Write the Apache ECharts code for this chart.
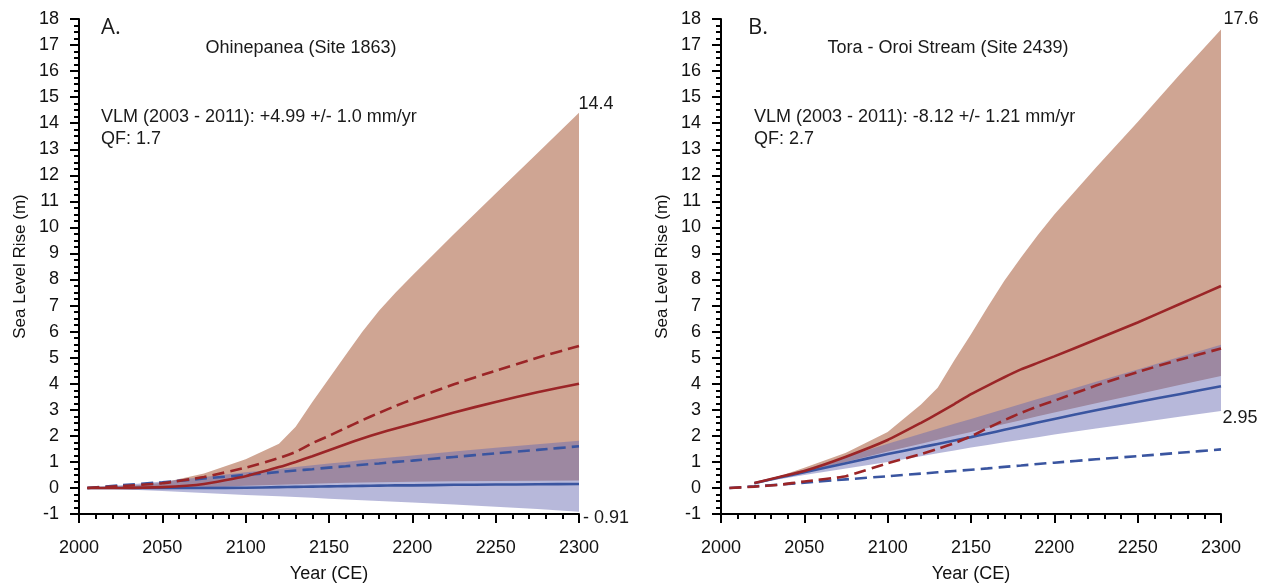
<!DOCTYPE html>
<html>
<head>
<meta charset="utf-8">
<script src="https://cdn.jsdelivr.net/npm/echarts@6/dist/echarts.min.js"></script>
<style>
html,body{margin:0;padding:0;background:#fff;}
#chart{width:1265px;height:588px;}
</style>
</head>
<body>
<div id="chart"></div>
<script>
// ---------- Panel A: Ohinepanea (Site 1863) ----------
const yearsA = [2005, 2025, 2050, 2075, 2100, 2120, 2130, 2140, 2150, 2160, 2170, 2180, 2190, 2200, 2225, 2250, 2275, 2300];
const redUpperA  = [0, 0.05, 0.2, 0.55, 1.1, 1.7, 2.35, 3.3, 4.2, 5.1, 6.0, 6.8, 7.5, 8.15, 9.75, 11.3, 12.85, 14.4];
const redLowerA  = [0, 0, 0, 0.03, 0.08, 0.12, 0.14, 0.16, 0.18, 0.2, 0.21, 0.22, 0.23, 0.24, 0.26, 0.27, 0.28, 0.29];
const blueUpperA = [0, 0.1, 0.25, 0.42, 0.6, 0.73, 0.8, 0.87, 0.94, 1.0, 1.07, 1.13, 1.19, 1.25, 1.4, 1.54, 1.68, 1.81];
const blueLowerA = [0, -0.05, -0.12, -0.19, -0.27, -0.32, -0.35, -0.38, -0.41, -0.44, -0.47, -0.5, -0.53, -0.56, -0.64, -0.72, -0.81, -0.91];
const redSolidA  = [0, 0, 0.03, 0.15, 0.45, 0.8, 1.0, 1.22, 1.45, 1.68, 1.9, 2.1, 2.28, 2.45, 2.9, 3.3, 3.67, 4.0];
const redDashA   = [0, 0.07, 0.18, 0.42, 0.78, 1.15, 1.38, 1.72, 2.0, 2.3, 2.6, 2.88, 3.15, 3.4, 3.98, 4.5, 5.0, 5.45];
const blueSolidA = [0, 0, 0, 0, 0.01, 0.03, 0.04, 0.05, 0.06, 0.07, 0.08, 0.09, 0.1, 0.1, 0.12, 0.13, 0.14, 0.15];
const blueDashA  = [0, 0.1, 0.22, 0.36, 0.5, 0.61, 0.67, 0.72, 0.78, 0.83, 0.89, 0.94, 1.0, 1.05, 1.19, 1.33, 1.46, 1.6];

// ---------- Panel B: Tora - Oroi Stream (Site 2439) ----------
const yearsB = [2005, 2020, 2035, 2050, 2075, 2100, 2120, 2130, 2140, 2150, 2160, 2170, 2180, 2190, 2200, 2225, 2250, 2275, 2300];
const redUpperB  = [null, 0.2, 0.45, 0.78, 1.35, 2.15, 3.2, 3.85, 4.9, 5.9, 6.95, 7.95, 8.85, 9.7, 10.5, 12.3, 14.05, 15.85, 17.6];
const redLowerB  = [null, 0.18, 0.4, 0.6, 1.0, 1.4, 1.7, 1.85, 2.0, 2.15, 2.3, 2.45, 2.6, 2.75, 2.9, 3.25, 3.6, 3.95, 4.3];
const blueUpperB = [null, 0.2, 0.45, 0.7, 1.2, 1.7, 2.08, 2.27, 2.46, 2.65, 2.84, 3.03, 3.22, 3.41, 3.6, 4.08, 4.55, 5.03, 5.5];
const blueLowerB = [null, 0.15, 0.33, 0.5, 0.75, 1.0, 1.22, 1.33, 1.44, 1.55, 1.65, 1.75, 1.85, 1.95, 2.05, 2.28, 2.5, 2.73, 2.95];
const redSolidB  = [null, 0.19, 0.42, 0.65, 1.2, 1.84, 2.5, 2.85, 3.22, 3.6, 3.93, 4.25, 4.55, 4.8, 5.05, 5.7, 6.35, 7.05, 7.75];
const redDashB   = [0, 0.05, 0.12, 0.25, 0.45, 0.95, 1.3, 1.5, 1.72, 1.98, 2.3, 2.6, 2.88, 3.13, 3.35, 3.93, 4.45, 4.92, 5.35];
const blueSolidB = [null, 0.18, 0.4, 0.6, 0.95, 1.3, 1.56, 1.69, 1.82, 1.95, 2.09, 2.23, 2.37, 2.51, 2.65, 2.98, 3.3, 3.6, 3.9];
const blueDashB  = [0, 0.06, 0.13, 0.2, 0.33, 0.45, 0.55, 0.6, 0.65, 0.7, 0.75, 0.81, 0.86, 0.92, 0.97, 1.1, 1.22, 1.35, 1.48];

const xTicks = {min: 2000, max: 2300, interval: 50};
const yTicks = {min: -1, max: 18, interval: 1};

const FONT = '"Liberation Sans", Arial, sans-serif';
const RED = '#9b2527';
const BLUE = '#3a55a0';
const RED_BAND = '#cfa593';
const BLUE_BAND = 'rgba(102,104,177,0.47)';

function pairs(years, vals) {
  return years.map((y, i) => [y, vals[i]]);
}

function band(idx, years, lower, upper, color, z) {
  return {
    type: 'custom', xAxisIndex: idx, yAxisIndex: idx, silent: true, z: z,
    data: [[2150, 0]], clip: true,
    renderItem: function (params, api) {
      const pts = [];
      for (let i = 0; i < years.length; i++) {
        if (upper[i] != null) pts.push(api.coord([years[i], upper[i]]));
      }
      for (let i = years.length - 1; i >= 0; i--) {
        if (lower[i] != null) pts.push(api.coord([years[i], lower[i]]));
      }
      return {type: 'polygon', shape: {points: pts}, style: {fill: color}};
    }
  };
}

function line(idx, years, vals, color, dashed, z) {
  return {
    type: 'line', xAxisIndex: idx, yAxisIndex: idx, z: z,
    data: pairs(years, vals), showSymbol: false, smooth: 0.15, silent: true,
    connectNulls: false,
    lineStyle: {color: color, width: 2.6, type: dashed ? [12, 6] : 'solid'}
  };
}

function xAxis(idx) {
  return {
    type: 'value', gridIndex: idx, min: xTicks.min, max: xTicks.max, interval: xTicks.interval,
    axisLine: {show: true, onZero: false, lineStyle: {color: '#000', width: 2}},
    axisTick: {show: true, length: 9, lineStyle: {color: '#000', width: 2}},
    minorTick: {show: true, splitNumber: 5, length: 5, lineStyle: {color: '#000', width: 2}},
    splitLine: {show: false}, minorSplitLine: {show: false},
    axisLabel: {fontSize: 18, color: '#111', margin: 25, fontFamily: FONT,
                formatter: function (v) { return String(v); }},
    name: 'Year (CE)', nameLocation: 'middle', nameGap: 51,
    nameTextStyle: {fontSize: 18, color: '#111', fontFamily: FONT}
  };
}

function yAxis(idx) {
  return {
    type: 'value', gridIndex: idx, min: yTicks.min, max: yTicks.max, interval: yTicks.interval,
    axisLine: {show: true, onZero: false, lineStyle: {color: '#000', width: 2}},
    axisTick: {show: true, length: 9, lineStyle: {color: '#000', width: 2}},
    minorTick: {show: true, splitNumber: 4, length: 5, lineStyle: {color: '#000', width: 2}},
    splitLine: {show: false}, minorSplitLine: {show: false},
    axisLabel: {fontSize: 18, color: '#111', margin: 20, fontFamily: FONT},
    name: 'Sea Level Rise (m)', nameLocation: 'middle', nameGap: 50,
    nameTextStyle: {fontSize: 17, color: '#111', fontFamily: FONT}
  };
}

function txt(text, x, y, size, align, family) {
  return {
    type: 'text', x: x, y: y, silent: true,
    style: {text: text, fontSize: size, fontFamily: family || FONT, fill: '#1a1a1a',
            align: align || 'left', verticalAlign: 'middle'}
  };
}

const chart = echarts.init(document.getElementById('chart'), null, {renderer: 'canvas'});
chart.setOption({
  backgroundColor: '#fff',
  animation: false,
  grid: [
    {left: 79, top: 19, width: 500, height: 500},
    {left: 721, top: 19, width: 500, height: 500}
  ],
  xAxis: [xAxis(0), xAxis(1)],
  yAxis: [yAxis(0), yAxis(1)],
  series: [
    band(0, yearsA, redLowerA, redUpperA, RED_BAND, 1),
    band(0, yearsA, blueLowerA, blueUpperA, BLUE_BAND, 2),
    line(0, yearsA, blueSolidA, BLUE, false, 3),
    line(0, yearsA, blueDashA, BLUE, true, 3),
    line(0, yearsA, redDashA, RED, true, 4),
    line(0, yearsA, redSolidA, RED, false, 4),
    band(1, yearsB, redLowerB, redUpperB, RED_BAND, 1),
    band(1, yearsB, blueLowerB, blueUpperB, BLUE_BAND, 2),
    line(1, yearsB, blueSolidB, BLUE, false, 3),
    line(1, yearsB, blueDashB, BLUE, true, 3),
    line(1, yearsB, redDashB, RED, true, 4),
    line(1, yearsB, redSolidB, RED, false, 4)
  ],
  graphic: [
    txt('A.', 101, 28, 22, 'left', '"Open Sans", sans-serif'),
    txt('Ohinepanea (Site 1863)', 301, 48, 18, 'center'),
    txt('VLM (2003 - 2011): +4.99 +/- 1.0 mm/yr', 101, 117, 18),
    txt('QF: 1.7', 101, 139, 18),
    txt('14.4', 596, 104, 18, 'center'),
    txt('- 0.91', 583, 518, 18),
    txt('B.', 748, 28, 22, 'left', '"Open Sans", sans-serif'),
    txt('Tora - Oroi Stream (Site 2439)', 948, 48, 18, 'center'),
    txt('VLM (2003 - 2011): -8.12 +/- 1.21 mm/yr', 754, 117, 18),
    txt('QF: 2.7', 754, 139, 18),
    txt('17.6', 1241, 19, 18, 'center'),
    txt('2.95', 1240, 418, 18, 'center')
  ]
});
</script>
</body>
</html>
